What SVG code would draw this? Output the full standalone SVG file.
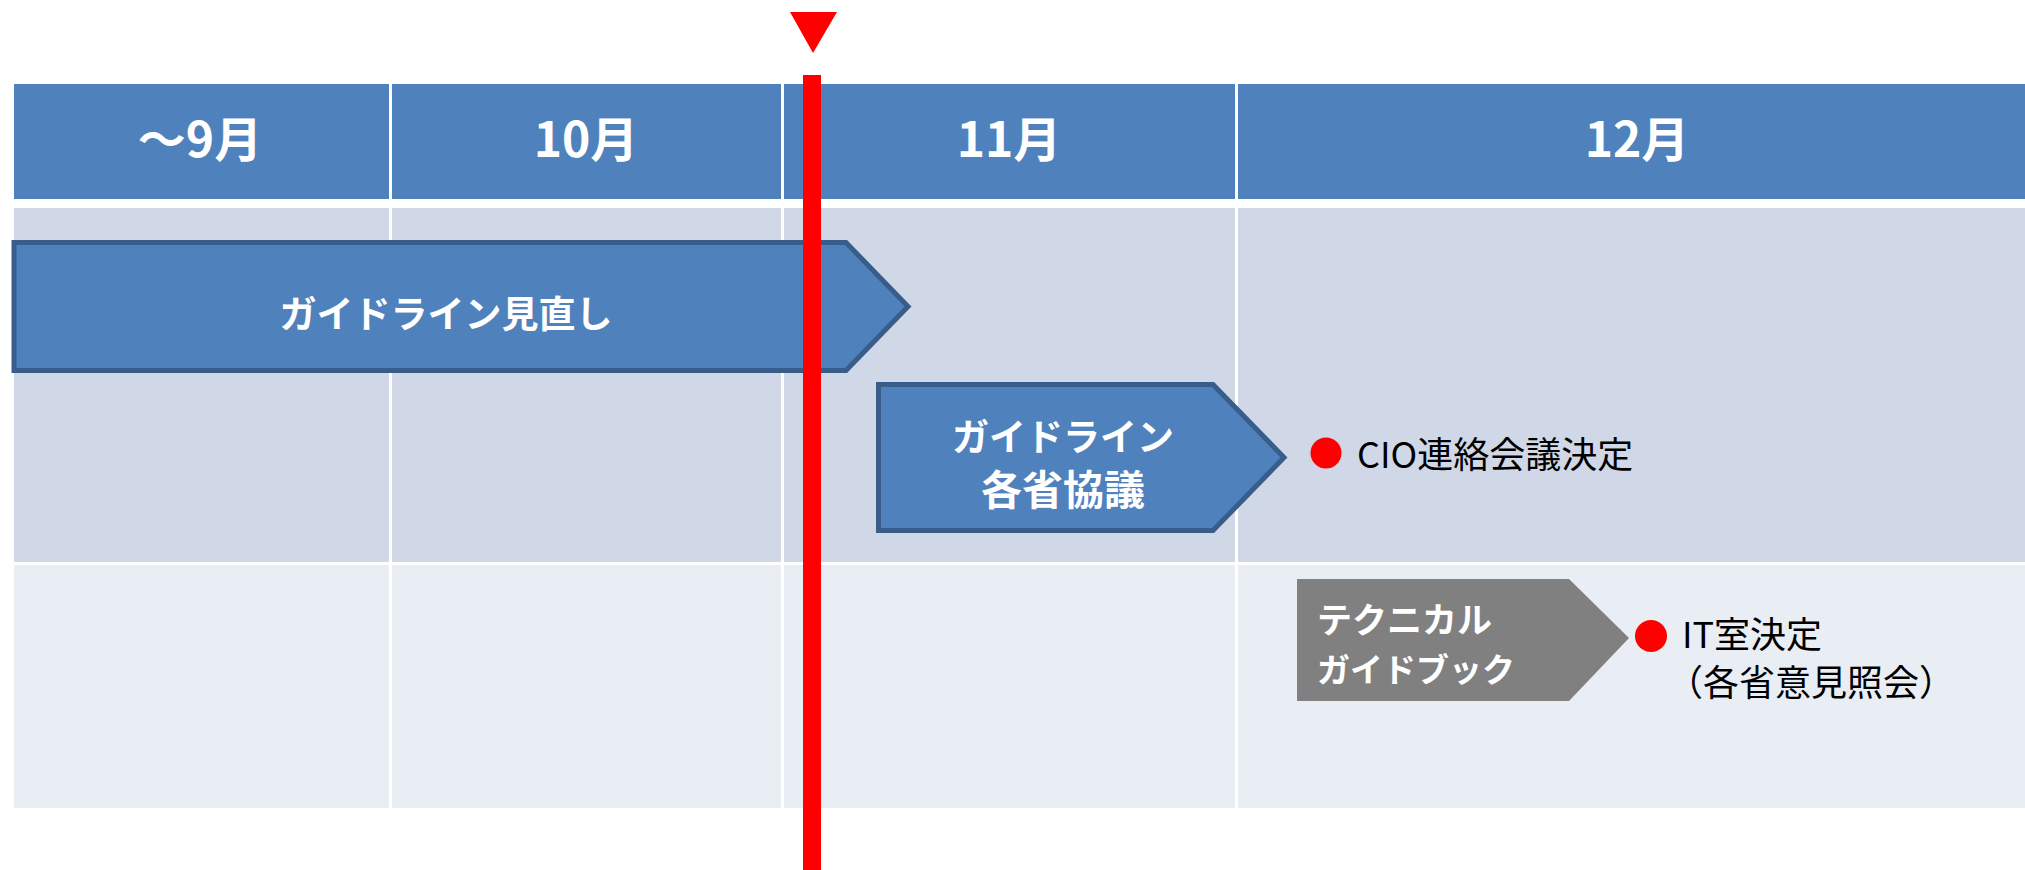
<svg xmlns="http://www.w3.org/2000/svg" width="2025" height="870" viewBox="0 0 2025 870">
<style>
.hdr{fill:#4F81BD}
.r1{fill:#D0D8E8}
.r2{fill:#E9EDF4}
.sep{fill:#FFFFFF}
.hd{font-family:"Noto Sans CJK JP","Liberation Sans",sans-serif;font-weight:700;font-size:48px;fill:#FFFFFF;text-anchor:middle}
.bl{font-family:"Noto Sans CJK JP","Liberation Sans",sans-serif;font-weight:700;fill:#FFFFFF}
.nt{font-family:"Noto Sans CJK JP","Liberation Sans",sans-serif;font-size:36px;fill:#000000}
.arr{fill:#4F81BD;stroke:#385D8A;stroke-width:5;stroke-linejoin:miter}
.gray{fill:#808080}
.dot{fill:#FF0000}
</style>
<rect width="2025" height="870" fill="#FFFFFF"/>
<g id="table">
  <rect class="hdr" x="14" y="84" width="2011" height="115"/>
  <rect class="r1" x="14" y="208" width="2011" height="354"/>
  <rect class="r2" x="14" y="565" width="2011" height="243"/>
  <rect class="sep" x="389" y="84" width="3" height="724"/>
  <rect class="sep" x="781" y="84" width="3" height="724"/>
  <rect class="sep" x="1235" y="84" width="3" height="724"/>
  <text class="hd" x="200" y="157">～9月</text>
  <text class="hd" x="586" y="157">10月</text>
  <text class="hd" x="1009" y="157">11月</text>
  <text class="hd" x="1637" y="157">12月</text>
</g>
<g id="node-guideline-review">
  <polygon class="arr" points="14,242.5 846,242.5 908,306.5 846,370.5 14,370.5"/>
  <text class="bl" x="446" y="328" font-size="37" text-anchor="middle">ガイドライン見直し</text>
</g>
<g id="node-guideline-consult">
  <polygon class="arr" points="878.5,384.5 1213,384.5 1284,457.5 1213,530.5 878.5,530.5"/>
  <text class="bl" x="1063" y="451" font-size="37" text-anchor="middle">ガイドライン</text>
  <text class="bl" x="1063" y="505" font-size="41" text-anchor="middle">各省協議</text>
</g>
<g id="node-cio">
  <circle class="dot" cx="1326" cy="453" r="15.5"/>
  <text class="nt" x="1357" y="468">CIO連絡会議決定</text>
</g>
<g id="node-technical-guidebook">
  <polygon class="gray" points="1297,579 1569,579 1629,638 1569,701 1297,701"/>
  <text class="bl" x="1317" y="633" font-size="35">テクニカル</text>
  <text class="bl" x="1317" y="682" font-size="33">ガイドブック</text>
</g>
<g id="node-it">
  <circle class="dot" cx="1651" cy="636" r="16"/>
  <text class="nt" x="1682" y="648" font-size="34">IT室決定</text>
  <text class="nt" x="1667" y="696" font-size="34">（各省意見照会）</text>
</g>
<g id="connectors">
  <polygon class="dot" points="790,12 837,12 813,53"/>
  <rect class="dot" x="803" y="75" width="18" height="795"/>
</g>
</svg>
